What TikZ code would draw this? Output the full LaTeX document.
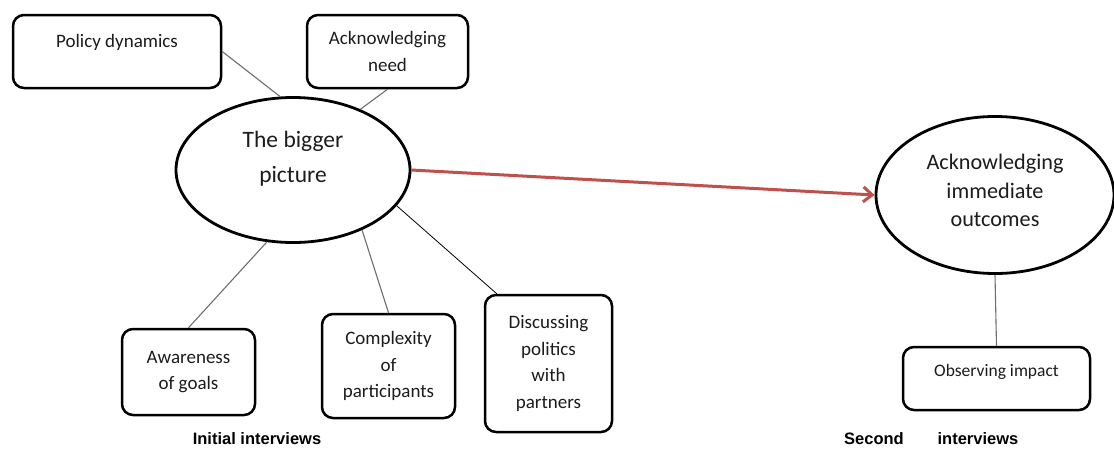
\documentclass[tikz,border=0pt]{standalone}
\usepackage{fontspec}
\setmainfont{Carlito}
\newfontfamily\labelfont{Liberation Sans}
\usetikzlibrary{shapes.geometric,arrows.meta,calc}
\definecolor{inktext}{HTML}{1C1C1C}
\definecolor{linkgray}{HTML}{6E6E6E}
\definecolor{flowred}{HTML}{C0504D}
\begin{document}
\begin{tikzpicture}[x=1pt,y=-1pt,
  box/.style={draw=black, line width=2.5pt, rounded corners=11pt, align=center,
    text=inktext, font=\fontsize{19}{26.5}\selectfont, inner sep=0pt},
  oval/.style={draw=black, ellipse, line width=2.8pt, inner sep=0pt},
  ovaltext/.style={align=center, text=inktext, inner sep=0pt},
  link/.style={draw=linkgray, line width=1.1pt},
  finelink/.style={draw=black, line width=0.8pt},
  flow/.style={draw=flowred, line width=3pt, -{Straight Barb[length=9pt,width=15pt]}},
  caption/.style={font=\labelfont\bfseries\fontsize{16.5}{20}\selectfont, text=black, inner sep=0pt}]
\useasboundingbox (0,0) rectangle (1114,448);
\fill[white] (0,0) rectangle (1114,448);

% central themes
\node[oval, minimum width=234pt, minimum height=145pt] (big) at (293,170) {};
\node[ovaltext, font=\fontsize{23.5}{35}\selectfont] (bigtext) at (293,159) {The bigger\\picture};
\node[oval, minimum width=238pt, minimum height=157pt] (acc) at (995,195) {};
\node[ovaltext, font=\fontsize{22.2}{28.5}\selectfont] (acctext) at (995,190.4) {Acknowledging\\immediate\\outcomes};

% sub-themes, first round
\node[box, minimum width=208pt, minimum height=73pt, text depth=22pt] (pol) at (117,51.5) {Policy dynamics};
\node[box, minimum width=161pt, minimum height=73pt] (ack) at (387.5,51.5) {Acknowledging\\need};
\node[box, minimum width=133pt, minimum height=86pt] (aw) at (188.5,372) {Awareness\\of goals};
\node[box, minimum width=133pt, minimum height=104pt] (comp) at (388.5,366) {Complexity\\of\\participants};
\node[box, minimum width=127pt, minimum height=137pt] (disc) at (548.5,363.5) {Discussing\\politics\\with\\partners};

% sub-theme, second round
\node[box, minimum width=187pt, minimum height=63pt, text depth=17pt,
  font=\fontsize{17.5}{24}\selectfont] (obs) at (996.5,378.5) {Observing impact};

% connectors
\draw[link] (pol.east) -- (big.100);
\draw[link] (ack.south) -- (big.42);
\draw[link] (big.250) -- (aw.north);
\draw[link] (big.319) -- (comp.north);
\draw[finelink] (big.341) -- ($(disc.north west)+(13,0)$);
\draw[link] (acc.south) -- (obs.north);
\draw[flow] (big.east) -- (acc.west);

% round captions
\node[caption] (first) at (257,439) {Initial interviews};
\node[caption] (second) at (874,438.5) {Second};
\node[caption] (secondb) at (978,438.5) {interviews};
\end{tikzpicture}
\end{document}
